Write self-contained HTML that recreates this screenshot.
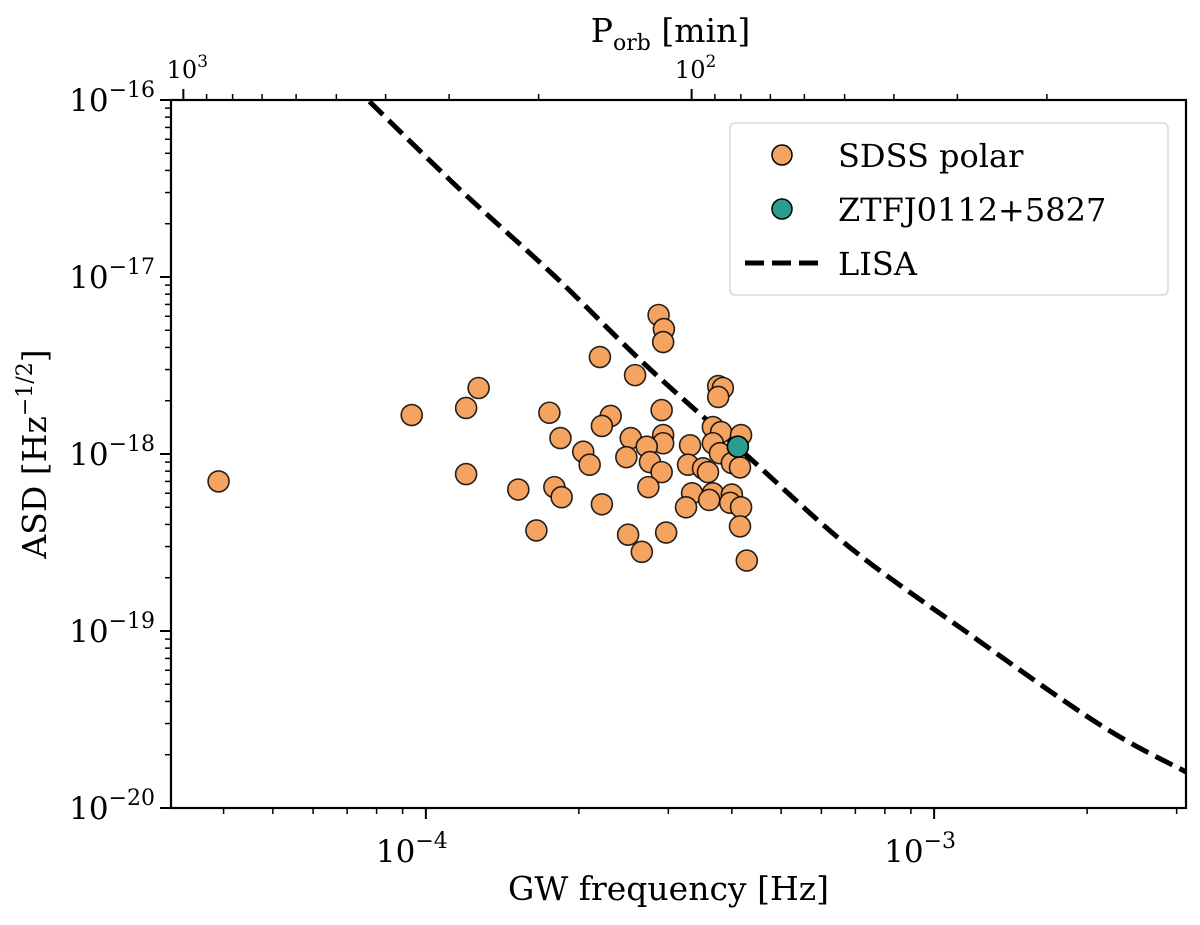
<!DOCTYPE html>
<html><head><meta charset="utf-8">
<style>
html,body{margin:0;padding:0;background:#fff;}
svg{display:block;}
text{font-family:"DejaVu Serif","Liberation Serif",serif;fill:#000;}
</style></head>
<body>
<svg id="chart" width="1200" height="925" viewBox="0 0 1200 925" xmlns="http://www.w3.org/2000/svg">
<defs><clipPath id="plotclip"><rect x="171" y="100" width="1015" height="708"/></clipPath></defs>
<rect x="0" y="0" width="1200" height="925" fill="#fff"/>
<g id="marks" clip-path="url(#plotclip)"></g>
<g id="axes"></g>
<g id="legend">
  <rect x="730" y="123" width="438" height="172" rx="5" fill="#fff" fill-opacity="0.85" stroke="#d9d9d9" stroke-width="1.5"/>
  <circle cx="782" cy="155" r="10" fill="#f4a460" stroke="#000" stroke-width="1.5"/>
  <text x="838" y="167" font-size="32">SDSS polar</text>
  <circle cx="782" cy="209" r="10" fill="#2a9d8f" stroke="#000" stroke-width="1.5"/>
  <text x="838" y="221" font-size="32">ZTFJ0112+5827</text>
  <line x1="745" y1="263" x2="818" y2="263" stroke="#000" stroke-width="5" stroke-dasharray="19,8"/>
  <text x="838" y="275" font-size="32">LISA</text>
</g>
</svg>
<script>
// SDSS polars: frequency (units of 1e-4 Hz) and ASD (units of 1e-18 Hz^-1/2)
const sdssFreq = [2.87,2.94,2.93,2.20,2.58,1.27,3.76,3.84,3.76,0.938,1.20,1.75,2.91,2.31,2.22,3.67,3.81,4.17,1.84,2.53,2.93,2.93,3.31,2.72,3.67,2.04,3.79,2.48,2.76,2.10,3.28,3.51,4.00,4.15,2.91,3.59,1.20,2.74,1.52,1.79,1.85,3.34,3.67,4.00,3.25,3.61,3.97,4.17,2.22,1.65,2.50,2.97,4.15,2.66,4.28,0.391];
const sdssAsd  = [6.10,5.08,4.29,3.53,2.79,2.36,2.42,2.36,2.10,1.66,1.82,1.71,1.77,1.64,1.44,1.42,1.33,1.28,1.23,1.23,1.28,1.15,1.12,1.10,1.15,1.03,1.01,0.96,0.90,0.87,0.87,0.83,0.89,0.84,0.79,0.79,0.77,0.65,0.63,0.65,0.57,0.60,0.60,0.59,0.50,0.55,0.53,0.50,0.52,0.37,0.35,0.36,0.39,0.28,0.25,0.70];
const ztfFreq = [4.11];
const ztfAsd = [1.10];
// LISA sensitivity curve (Hz, Hz^-1/2)
const lisaFreq = [6.5e-5,7.69e-5,1.17e-4,1.80e-4,2.70e-4,4.25e-4,6.84e-4,1.15e-3,2.12e-3,3.13e-3,3.3e-3];
const lisaAsd  = [1.6e-16,1.0e-16,3.1e-17,1.0e-17,3.2e-18,1.0e-18,2.95e-19,1.0e-19,2.95e-20,1.6e-20,1.5e-20];
const xTickExp = [-4,-3];
const yTickExp = [-16,-17,-18,-19,-20];
const topTickExp = [3,2];

const L=171,R=1186,T=100,B=808;
const xLo=Math.log10(3.152e-5), xHi=Math.log10(3.13e-3);
const yLo=-20, yHi=-16;
const xs=f=>L+(Math.log10(f)-xLo)/(xHi-xLo)*(R-L);
const ys=a=>B-(Math.log10(a)-yLo)/(yHi-yLo)*(B-T);
const xP=p=>xs(2/(p*60));
const NS="http://www.w3.org/2000/svg";
function mk(tag,attrs,parent){const e=document.createElementNS(NS,tag);for(const k in attrs)e.setAttribute(k,attrs[k]);parent.appendChild(e);return e;}
const marks=document.getElementById('marks'), axes=document.getElementById('axes');

// LISA as smooth Catmull-Rom curve through data points
const P=lisaFreq.map((f,i)=>[xs(f),ys(lisaAsd[i])]);
let d='M'+P[0][0].toFixed(1)+','+P[0][1].toFixed(1);
for(let i=0;i<P.length-1;i++){
  const p0=P[Math.max(0,i-1)],p1=P[i],p2=P[i+1],p3=P[Math.min(P.length-1,i+2)];
  const c1=[p1[0]+(p2[0]-p0[0])/6,p1[1]+(p2[1]-p0[1])/6];
  const c2=[p2[0]-(p3[0]-p1[0])/6,p2[1]-(p3[1]-p1[1])/6];
  d+=' C'+c1[0].toFixed(1)+','+c1[1].toFixed(1)+' '+c2[0].toFixed(1)+','+c2[1].toFixed(1)+' '+p2[0].toFixed(1)+','+p2[1].toFixed(1);
}
const lp=mk('path',{d:d,fill:'none',stroke:'#000','stroke-width':5,'stroke-dasharray':'19,8'},marks);


sdssFreq.forEach((f,i)=>{
  const c=mk('circle',{cx:xs(f*1e-4),cy:ys(sdssAsd[i]*1e-18),r:10.5,fill:'#f4a460',stroke:'#000','stroke-width':1.6,'stroke-opacity':0.85},marks);
  
  
});
ztfFreq.forEach((f,i)=>{
  const c=mk('circle',{cx:xs(f*1e-4),cy:ys(ztfAsd[i]*1e-18),r:10.5,fill:'#2a9d8f',stroke:'#000','stroke-width':1.6},marks);
  
  
});

const fr=mk('rect',{x:L,y:T,width:R-L,height:B-T,fill:'none',stroke:'#000','stroke-width':2.2},axes);



for(let e=-5;e<=-2;e++){for(let m=1;m<10;m++){const f=m*Math.pow(10,e);const x=xs(f);if(x<L-0.5||x>R+0.5)continue;
  mk('line',{x1:x,y1:B,x2:x,y2:B+(m==1?11:6),stroke:'#000','stroke-width':m==1?2:1.5},axes);}}
xTickExp.forEach(e=>{const t=mk('text',{x:xs(Math.pow(10,e))-14,y:B+54,'font-size':31,'text-anchor':'middle'},axes);
  
  
  t.innerHTML='10<tspan dy="-14" font-size="22">−'+(-e)+'</tspan>';});
for(let e=-21;e<=-16;e++){for(let m=1;m<10;m++){const a=m*Math.pow(10,e);const y=ys(a);if(y<T-0.5||y>B+0.5)continue;
  mk('line',{x1:L,y1:y,x2:L-(m==1?11:6),y2:y,stroke:'#000','stroke-width':m==1?2:1.5},axes);}}
yTickExp.forEach(e=>{const t=mk('text',{x:L-16,y:ys(Math.pow(10,e))+11,'font-size':31,'text-anchor':'end'},axes);
  
  
  t.innerHTML='10<tspan dy="-14" font-size="22">−'+(-e)+'</tspan>';});
for(let e=0;e<=3;e++){for(let m=1;m<10;m++){const p=m*Math.pow(10,e);const x=xP(p);if(x<L-0.5||x>R+0.5)continue;
  mk('line',{x1:x,y1:T,x2:x,y2:T-(m==1?11:6),stroke:'#000','stroke-width':m==1?2:1.5},axes);}}
topTickExp.forEach(e=>{const t=mk('text',{x:xP(Math.pow(10,e))+4,y:T-22,'font-size':24,'text-anchor':'middle'},axes);
  
  
  t.innerHTML='10<tspan dy="-11" font-size="17">'+e+'</tspan>';});

let t=mk('text',{x:(L+R)/2-10,y:B+92,'font-size':33,'text-anchor':'middle'},axes);


t.textContent='GW frequency [Hz]';
t=mk('text',{x:0,y:0,'font-size':33,'text-anchor':'middle',transform:'translate(46,'+((T+B)/2)+') rotate(-90)'},axes);


t.innerHTML='ASD [Hz<tspan dy="-14" font-size="22">−1/2</tspan><tspan dy="14">]</tspan>';
t=mk('text',{x:(L+R)/2-8,y:42,'font-size':33,'text-anchor':'middle'},axes);


t.innerHTML='P<tspan dy="8" font-size="22">orb</tspan><tspan dy="-8"> [min]</tspan>';
</script>
</body></html>
